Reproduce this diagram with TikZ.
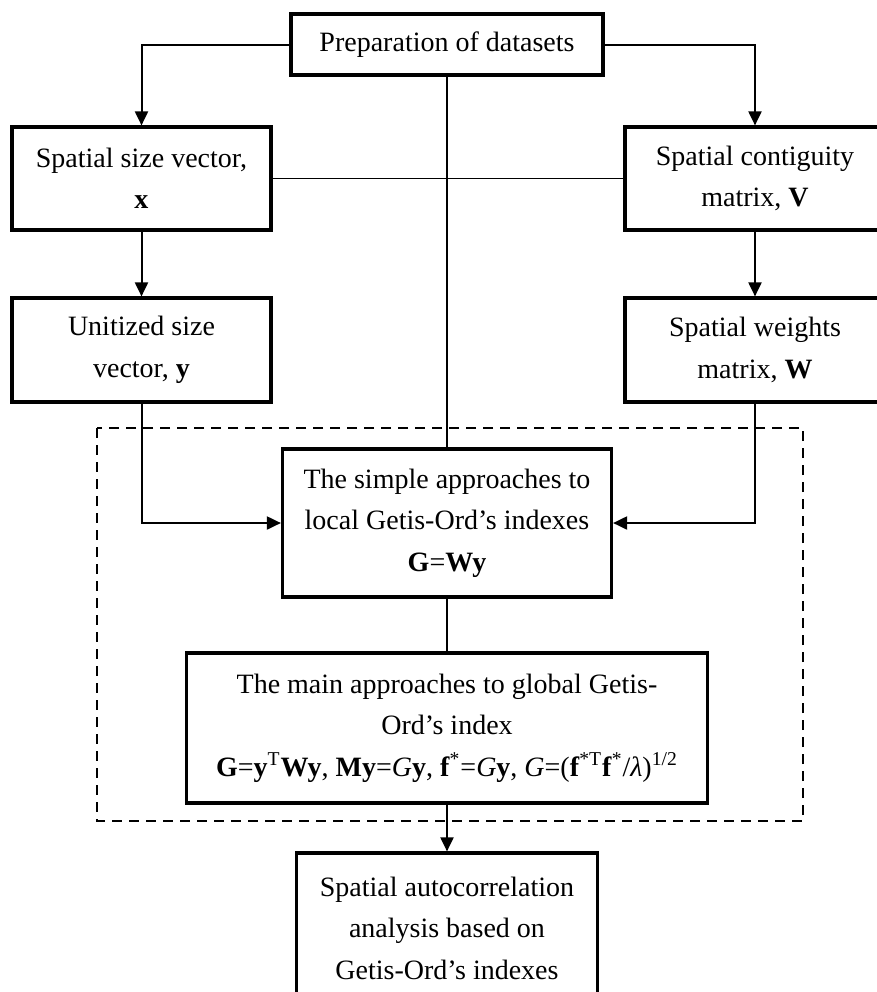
\documentclass[tikz,border=0pt]{standalone}
\usepackage{fontspec}
\setmainfont{Liberation Serif}
\usetikzlibrary{arrows.meta}
\begin{document}
\begin{tikzpicture}[x=0.5pt,y=-0.5pt,
  box/.style={draw, line width=1.6pt, rectangle, align=center, inner sep=0pt,
    font=\fontsize{14}{20.75}\selectfont},
  conn/.style={line width=1pt},
  thin/.style={line width=0.8pt},
  arr/.style={line width=1pt, -{Triangle[length=7pt,width=6.5pt]}},
  dashbox/.style={line width=1.2pt, dash pattern=on 5pt off 3.5pt}]
\clip (0,0) rectangle (877,992);
\fill[white] (0,0) rectangle (877,992);
\node[box, minimum width=156pt, minimum height=30.5pt] (prep) at (447,44.5) {Preparation of datasets};
\node[box, minimum width=129.5pt, minimum height=51.5pt] (sx) at (141.5,178.5) {Spatial size vector,\\ \textbf{x}};
\node[box, minimum width=130pt, minimum height=51.5pt] (sv) at (755,178.5) {Spatial contiguity\\ matrix, \textbf{V}};
\node[box, minimum width=129.5pt, minimum height=52pt] (uy) at (141.5,350) {Unitized size\\ vector, \textbf{y}};
\node[box, minimum width=130pt, minimum height=52pt] (sw) at (755,350) {Spatial weights\\ matrix, \textbf{W}};
\node[box, minimum width=164.5pt, minimum height=74pt] (loc) at (447,523) {The simple approaches to\\ local Getis-Ord’s indexes\\ \textbf{G}=\textbf{Wy}};
\node[box, minimum width=260.5pt, minimum height=75pt] (glob) at (447,728) {The main approaches to global Getis-\\ Ord’s index\\ \textbf{G}=\textbf{y}\textsuperscript{T}\textbf{Wy}, \textbf{My}=\textit{G}\textbf{y}, \textbf{f}\textsuperscript{*}=\textit{G}\textbf{y}, \textit{G}=(\textbf{f}\textsuperscript{*T}\textbf{f}\textsuperscript{*}/\textit{λ})\textsuperscript{1/2}};
\node[box, minimum width=150.5pt, minimum height=75pt] (sa) at (447,928) {Spatial autocorrelation\\ analysis based on\\ Getis-Ord’s indexes};
\coordinate (dtl) at (97,428);
\coordinate (dbr) at (803,821);
\draw[dashbox] (dtl) rectangle (dbr);
\draw[arr] (prep.west) -| (sx.north);
\draw[arr] (prep.east) -| (sv.north);
\draw[thin] (prep.south) -- (loc.north);
\draw[thin] (sx.east) -- (sv.west);
\draw[arr] (sx.south) -- (uy.north);
\draw[arr] (sv.south) -- (sw.north);
\draw[arr] (uy.south) |- (loc.west);
\draw[arr] (sw.south) |- (loc.east);
\draw[thin] (loc.south) -- (glob.north);
\draw[arr] (glob.south) -- (sa.north);
\end{tikzpicture}
\end{document}
